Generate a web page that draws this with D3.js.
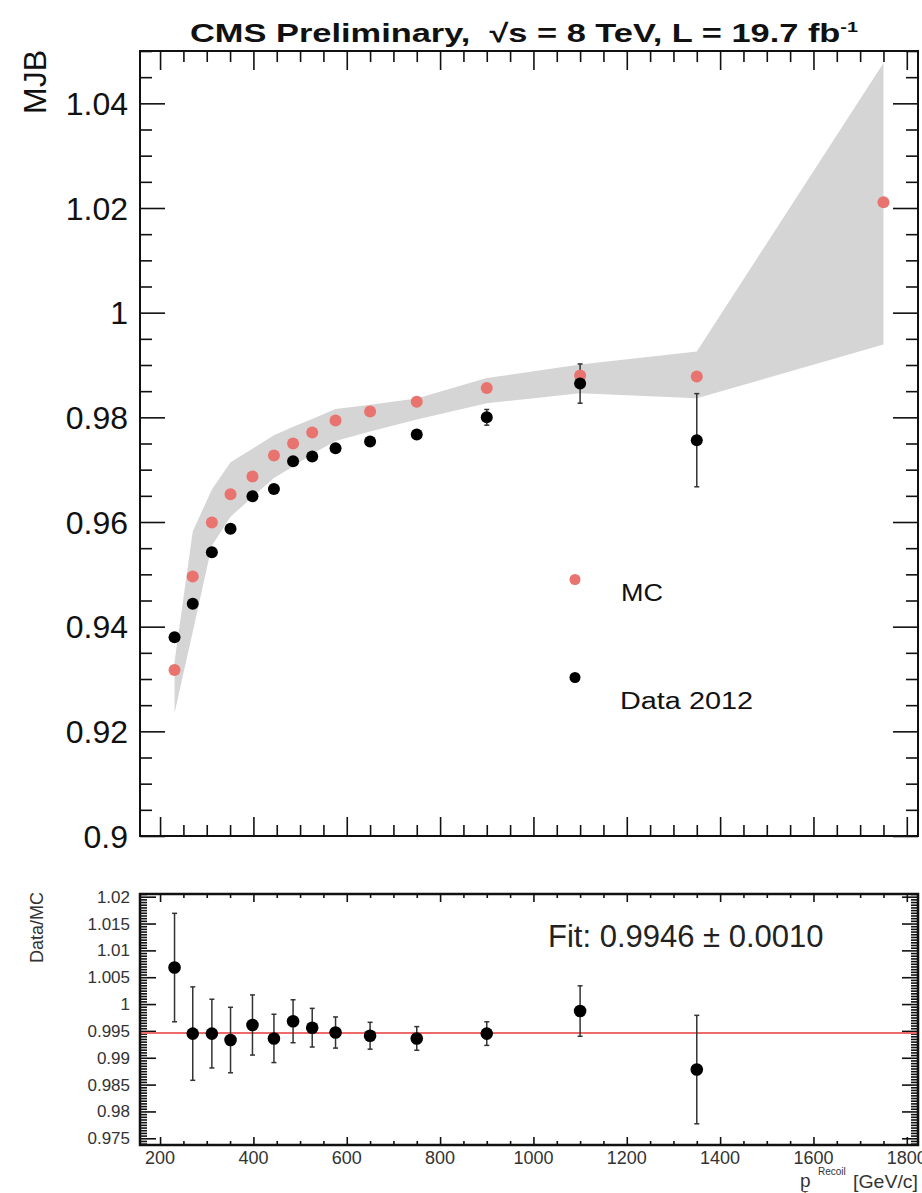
<!DOCTYPE html>
<html><head><meta charset="utf-8">
<script src="https://cdn.jsdelivr.net/npm/d3@7"></script>
<style>
html,body{margin:0;padding:0;background:#fff;}
svg{display:block;font-family:"Liberation Sans",Arial,Helvetica,sans-serif;}
</style></head>
<body><svg id="c" width="922" height="1193"></svg>
<script>
// ---- data ----
const mcPt   = [231, 270, 311, 351, 398, 444, 485, 526, 576, 650, 750, 900, 1100, 1350, 1750];
const mcMJB  = [0.9317, 0.9496, 0.9599, 0.9653, 0.9687, 0.9727, 0.9750, 0.9771, 0.9794, 0.9811, 0.9830, 0.9856, 0.9880, 0.9878, 1.0211];
const bandUp = [0.9333, 0.9582, 0.9662, 0.9714, 0.9740, 0.9766, 0.9782, 0.9797, 0.9816, 0.9824, 0.9836, 0.9875, 0.9901, 0.9926, 1.0477];
const bandLo = [0.9235, 0.9390, 0.9555, 0.9610, 0.9648, 0.9684, 0.9706, 0.9730, 0.9755, 0.9773, 0.9796, 0.9827, 0.9846, 0.98365, 0.9939];
const dataPt  = [231, 270, 311, 351, 398, 444, 485, 526, 576, 650, 750, 900, 1100, 1350];
const dataMJB = [0.9380, 0.9444, 0.9542, 0.9587, 0.9649, 0.9663, 0.9716, 0.9725, 0.9741, 0.9754, 0.9767, 0.9800, 0.98645, 0.97563];
const dataErr = [0.0004, 0.0004, 0.0004, 0.0004, 0.0004, 0.0004, 0.0004, 0.0004, 0.0004, 0.0005, 0.0006, 0.0015, 0.00375, 0.0089];
const ratioVal = [1.0068, 0.9945, 0.9945, 0.9933, 0.9961, 0.9936, 0.9968, 0.9956, 0.9947, 0.9941, 0.9936, 0.9945, 0.9987, 0.9878];
const ratioErr = [0.0101, 0.0087, 0.0064, 0.0061, 0.0056, 0.0045, 0.0040, 0.0036, 0.0029, 0.0025, 0.0022, 0.0022, 0.0047, 0.0101];
const fitValue = 0.9946;
const xMajor = [200, 400, 600, 800, 1000, 1200, 1400, 1600, 1800];
const topYMajor = [0.9, 0.92, 0.94, 0.96, 0.98, 1, 1.02, 1.04];
const topYLabels = ["0.9", "0.92", "0.94", "0.96", "0.98", "1", "1.02", "1.04"];
const botYMajor = [0.975, 0.98, 0.985, 0.99, 0.995, 1, 1.005, 1.01, 1.015, 1.02];
const botYLabels = ["0.975", "0.98", "0.985", "0.99", "0.995", "1", "1.005", "1.01", "1.015", "1.02"];
const legendLabels = ["MC", "Data 2012"];

const svg = d3.select("#c");
svg.append("rect").attr("width",922).attr("height",1193).attr("fill","#fff");

const L = 140, R = 918;
const x = d3.scaleLinear().domain([157, 1824]).range([L, R]);
const yT = d3.scaleLinear().domain([0.9, 1.05]).range([836, 51]);
const yB = d3.scaleLinear().domain([0.97375, 1.0205]).range([1145, 894]);
const RED = "#e8736f";

// ---- top panel band ----
const bandData = mcPt.map((p,i)=>({p, up:bandUp[i], lo:bandLo[i]}));
svg.append("path").datum(bandData)
  .attr("d", d3.area().x(d=>x(d.p)).y0(d=>yT(d.lo)).y1(d=>yT(d.up)))
  .attr("fill","#d5d5d5");

function ticks(g, axis){ g.call(axis); g.select(".domain").remove(); g.selectAll("line").attr("stroke","#111").attr("stroke-width",1.6); return g; }
const xMinor = d3.range(200, 1824, 50).filter(v=>v%200!==0);

// top panel x ticks (bottom and top, inward)
ticks(svg.append("g").attr("transform","translate(0,836)"), d3.axisBottom(x).tickValues(xMajor).tickSize(-19).tickFormat(""));
ticks(svg.append("g").attr("transform","translate(0,836)"), d3.axisBottom(x).tickValues(xMinor).tickSize(-11).tickFormat(""));
ticks(svg.append("g").attr("transform","translate(0,51)"), d3.axisTop(x).tickValues(xMajor).tickSize(-19).tickFormat(""));
ticks(svg.append("g").attr("transform","translate(0,51)"), d3.axisTop(x).tickValues(xMinor).tickSize(-11).tickFormat(""));
// top panel y ticks
const yTMinor = d3.range(0, 31).map(i=>0.9+i*0.005).filter(v=>Math.abs(Math.round(v*50)-v*50)>1e-6);
ticks(svg.append("g").attr("transform",`translate(${L},0)`), d3.axisLeft(yT).tickValues(topYMajor).tickSize(-25).tickFormat(""));
ticks(svg.append("g").attr("transform",`translate(${L},0)`), d3.axisLeft(yT).tickValues(yTMinor).tickSize(-12).tickFormat(""));
ticks(svg.append("g").attr("transform",`translate(${R},0)`), d3.axisRight(yT).tickValues(topYMajor).tickSize(-25).tickFormat(""));
ticks(svg.append("g").attr("transform",`translate(${R},0)`), d3.axisRight(yT).tickValues(yTMinor).tickSize(-12).tickFormat(""));
// top y labels
svg.append("g").selectAll("text").data(topYMajor).join("text")
  .attr("x",128).attr("y",d=>yT(d)+11.5).attr("text-anchor","end")
  .attr("font-size",32).attr("fill","#111").text((d,i)=>topYLabels[i]);

// top frame
svg.append("rect").attr("x",L).attr("y",51).attr("width",R-L).attr("height",836-51)
  .attr("fill","none").attr("stroke","#111").attr("stroke-width",2);

// data error bars top
const dErr = svg.append("g").attr("stroke","#333").attr("stroke-width",1.5);
dataPt.forEach((p,i)=>{
  const y1 = yT(dataMJB[i]+dataErr[i]), y2 = yT(dataMJB[i]-dataErr[i]);
  dErr.append("line").attr("x1",x(p)).attr("x2",x(p)).attr("y1",y1).attr("y2",y2);
  if (dataErr[i] > 0.001) {
    dErr.append("line").attr("x1",x(p)-2.5).attr("x2",x(p)+2.5).attr("y1",y1).attr("y2",y1);
    dErr.append("line").attr("x1",x(p)-2.5).attr("x2",x(p)+2.5).attr("y1",y2).attr("y2",y2);
  }
});
svg.append("g").selectAll("circle").data(mcPt).join("circle")
  .attr("cx",d=>x(d)).attr("cy",(d,i)=>yT(mcMJB[i])).attr("r",6).attr("fill",RED);
svg.append("g").selectAll("circle").data(dataPt).join("circle")
  .attr("cx",d=>x(d)).attr("cy",(d,i)=>yT(dataMJB[i])).attr("r",6).attr("fill","#000");

// legend
const leg = svg.append("g");
leg.append("circle").attr("cx",575).attr("cy",579.5).attr("r",5.5).attr("fill",RED);
leg.append("circle").attr("cx",575).attr("cy",677.5).attr("r",5.5).attr("fill","#000");
leg.append("text").attr("x",621).attr("y",601).attr("font-size",23).attr("fill","#111")
  .attr("textLength",42).attr("lengthAdjust","spacingAndGlyphs").text(legendLabels[0]);
leg.append("text").attr("x",620).attr("y",708.5).attr("font-size",23).attr("fill","#111")
  .attr("textLength",133).attr("lengthAdjust","spacingAndGlyphs").text(legendLabels[1]);

// title
const title = svg.append("text").attr("x",190).attr("y",42).attr("font-size",26).attr("font-weight","bold")
  .attr("fill","#111").attr("textLength",668).attr("lengthAdjust","spacingAndGlyphs");
title.append("tspan").text("CMS Preliminary,\u00A0\u00A0\u221As = 8 TeV, L = 19.7 fb");
title.append("tspan").attr("dy",-10).attr("font-size",15).text("-1");

// MJB label
svg.append("text").attr("transform","translate(46,50) rotate(-90)").attr("text-anchor","end")
  .attr("font-size",32).attr("fill","#111").text("MJB");

// ---- bottom panel ----
ticks(svg.append("g").attr("transform","translate(0,1145)"), d3.axisBottom(x).tickValues(xMajor).tickSize(-8).tickFormat(""));
ticks(svg.append("g").attr("transform","translate(0,1145)"), d3.axisBottom(x).tickValues(xMinor).tickSize(-4).tickFormat(""));
ticks(svg.append("g").attr("transform","translate(0,894)"), d3.axisTop(x).tickValues(xMajor).tickSize(-8).tickFormat(""));
ticks(svg.append("g").attr("transform","translate(0,894)"), d3.axisTop(x).tickValues(xMinor).tickSize(-4).tickFormat(""));
const yBMinor = d3.range(0, 94).map(i=>0.974+i*0.0005).filter(v=>v<=1.0205 && Math.abs(Math.round(v*200)-v*200)>1e-6);
ticks(svg.append("g").attr("transform",`translate(${L},0)`), d3.axisLeft(yB).tickValues(botYMajor).tickSize(-16).tickFormat(""));
ticks(svg.append("g").attr("transform",`translate(${L},0)`), d3.axisLeft(yB).tickValues(yBMinor).tickSize(-7).tickFormat(""));
ticks(svg.append("g").attr("transform",`translate(${R},0)`), d3.axisRight(yB).tickValues(botYMajor).tickSize(-16).tickFormat(""));
ticks(svg.append("g").attr("transform",`translate(${R},0)`), d3.axisRight(yB).tickValues(yBMinor).tickSize(-7).tickFormat(""));

svg.append("g").selectAll("text").data(botYMajor).join("text")
  .attr("x",130).attr("y",d=>yB(d)+6).attr("text-anchor","end")
  .attr("font-size",17).attr("fill","#333").text((d,i)=>botYLabels[i]);
svg.append("g").selectAll("text").data(xMajor).join("text")
  .attr("x",d=>x(d)).attr("y",1164).attr("text-anchor","middle")
  .attr("font-size",18).attr("fill","#333").text(d=>d);

// fit line
svg.append("line").attr("x1",L).attr("x2",R).attr("y1",yB(fitValue)).attr("y2",yB(fitValue))
  .attr("stroke","#ee6b6b").attr("stroke-width",2);

// ratio error bars & points
const rErr = svg.append("g").attr("stroke","#333").attr("stroke-width",1.5);
dataPt.forEach((p,i)=>{
  const y1 = yB(ratioVal[i]+ratioErr[i]), y2 = yB(ratioVal[i]-ratioErr[i]);
  rErr.append("line").attr("x1",x(p)).attr("x2",x(p)).attr("y1",y1).attr("y2",y2);
  rErr.append("line").attr("x1",x(p)-2.5).attr("x2",x(p)+2.5).attr("y1",y1).attr("y2",y1);
  rErr.append("line").attr("x1",x(p)-2.5).attr("x2",x(p)+2.5).attr("y1",y2).attr("y2",y2);
});
svg.append("g").selectAll("circle").data(dataPt).join("circle")
  .attr("cx",d=>x(d)).attr("cy",(d,i)=>yB(ratioVal[i])).attr("r",6.3).attr("fill","#000");

svg.append("rect").attr("x",L).attr("y",894).attr("width",R-L).attr("height",1145-894)
  .attr("fill","none").attr("stroke","#111").attr("stroke-width",2.5);

svg.append("text").attr("x",548).attr("y",947).attr("font-size",31).attr("fill","#222")
  .text("Fit: " + fitValue.toFixed(4) + " \u00B1 0.0010");

svg.append("text").attr("transform","translate(43,892) rotate(-90)").attr("text-anchor","end")
  .attr("font-size",18).attr("fill","#333").text("Data/MC");

// x title
svg.append("text").attr("x",800).attr("y",1187).attr("font-size",19).attr("fill","#333").text("p");
svg.append("text").attr("x",818).attr("y",1175).attr("font-size",10).attr("fill","#333").text("Recoil");
svg.append("text").attr("x",802).attr("y",1199).attr("font-size",10).attr("fill","#333").text("T");
svg.append("text").attr("x",853).attr("y",1188).attr("font-size",19).attr("fill","#333")
  .attr("textLength",65).attr("lengthAdjust","spacingAndGlyphs").text("[GeV/c]");
</script></body></html>
